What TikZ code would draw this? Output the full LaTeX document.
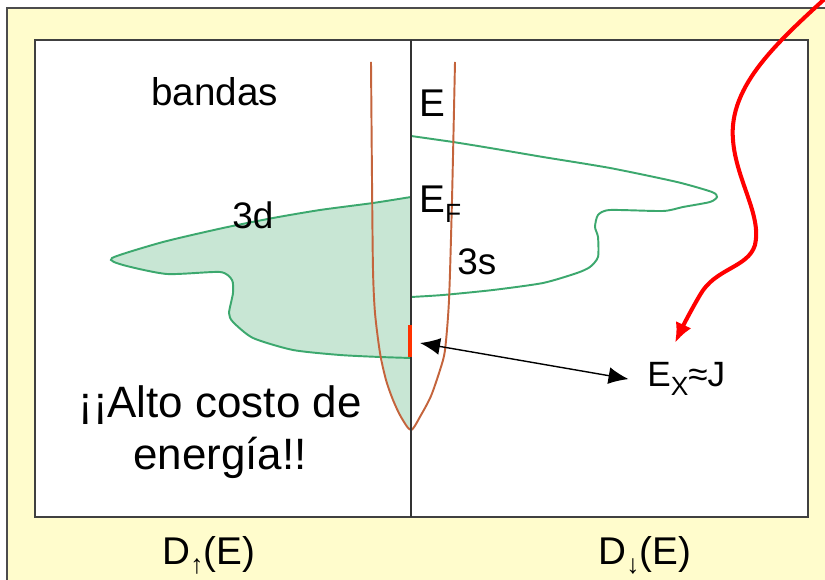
\documentclass[tikz,border=0pt]{standalone}
\usepackage{fontspec}
\setmainfont{Liberation Sans}
\usetikzlibrary{arrows.meta,positioning}
\definecolor{panel}{RGB}{255,252,204}
\definecolor{bandline}{RGB}{60,168,110}
\definecolor{bandfill}{RGB}{200,230,212}
\definecolor{sband}{RGB}{196,100,60}
\definecolor{gapred}{RGB}{255,50,0}
\newcommand{\lowsub}[1]{\raisebox{-0.45ex}{\fontsize{15}{15}\selectfont #1}}

\begin{document}
\begin{tikzpicture}[
  x=0.02cm, y=-0.02cm,
  lbl/.style={inner sep=0pt, anchor=base west, font=\fontsize{22}{26}\selectfont},
  dband/.style={draw=bandline, line width=1.1pt},
  sdos/.style={draw=sband, line width=1.1pt},
  line/.style={{Latex[length=4mm,width=3.4mm]}-{Latex[length=4mm,width=3.4mm]}, line width=0.8pt},
  hint/.style={-{Latex[length=4mm,width=3.4mm]}, red, line width=2.3pt}
]
\useasboundingbox (0,0) rectangle (825,580);
\clip (0,0) rectangle (825,580);
\draw[fill=panel, draw=black!70, line width=1.2pt] (7,8) rectangle (840,600);
\draw[fill=white, draw=black!75, line width=1.2pt] (35,40) rectangle (808,517);

% occupied states (spin up)
\fill[bandfill] plot[smooth, tension=0.4] coordinates {(411,197) (373,203) (320,210) (273,218) (223,228) (163,242) (112,258) (123,265) (167,274) (220,272) (232,280) (233,293) (229,313) (233,322) (253,338) (293,350) (340,355) (382,357)}
  -- plot[smooth] coordinates {(382,357) (386,380) (393,400) (401,417) (411,430)} -- cycle;

% 3d bands
\draw[dband] plot[smooth, tension=0.4] coordinates {(411,197) (373,203) (320,210) (273,218) (223,228) (163,242) (112,258) (123,265) (167,274) (220,272) (232,280) (233,293) (229,313) (233,322) (253,338) (293,350) (340,355) (380,357) (411,358)};
\draw[dband] plot[smooth, tension=0.4] coordinates {(411,136) (453,142) (490,148) (543,157) (610,168) (677,182) (712,192) (717,197) (710,202) (683,207) (663,211) (610,210) (598,215) (595,227) (598,237) (598,257) (590,267) (577,273) (543,283) (493,290) (443,295) (411,297)};

% 3s band
\draw[sdos] plot[smooth, tension=0.45] coordinates {(371,62) (372,180) (373,270) (375,313) (380,353) (386,380) (393,400) (401,417) (411,430) (421,415) (431,396) (440,370) (445,350) (449,300) (452,200) (455,62)};

% energy axis
\draw[black!80, line width=1pt] (411,40) -- (411,517);
\draw[gapred, line width=2.5pt] (410,325) -- (410,357);
\coordinate (gaptip) at (420,343);

\node[lbl] (bandas) at (151,106) {bandas};
\node[lbl] (e) at (419,117) {E};
\node[lbl] (ef) at (419,213) {E\lowsub{F}};
\node[lbl, font=\fontsize{21}{25}\selectfont] (d3) at (232,229) {3d};
\node[lbl, font=\fontsize{21}{25}\selectfont] (s3) at (457,275) {3s};
\node[lbl, font=\fontsize{20}{24}\selectfont] (exj) at (647,387) {E\lowsub{X}≈J};
\node[inner sep=0pt, align=center, font=\fontsize{25}{29.5}\selectfont] (cost) at (220,432) {¡¡Alto costo de\\energía!!};
\node[lbl] (dup) at (162,564) {D\lowsub{↑}(E)};
\node[lbl] (ddown) at (598,564) {D\lowsub{↓}(E)};

\draw[line] (gaptip) -- ([xshift=-10.5pt]exj.west);

\coordinate (hintstart) at (830,-6);
\coordinate (hintend) at (675,343);
\draw[hint] (hintstart) .. controls (780,40) and (728,85) .. (733,140)
  .. controls (736,180) and (762,215) .. (755,245)
  .. controls (748,268) and (715,268) .. (700,295)
  .. controls (690,312) and (682,328) .. (hintend);
\end{tikzpicture}
\end{document}
